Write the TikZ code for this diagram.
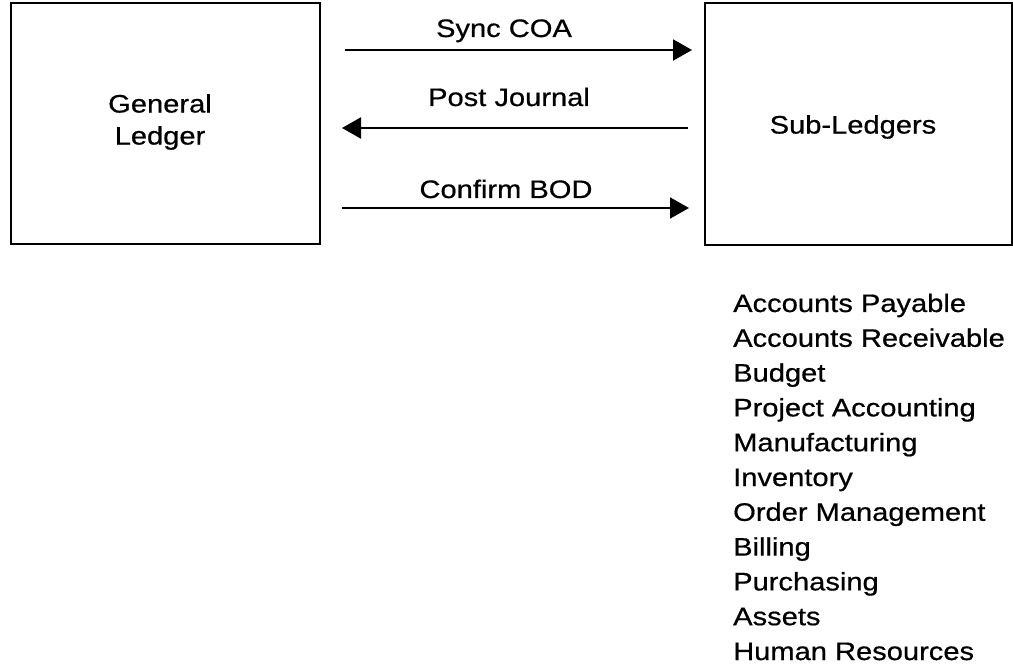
\documentclass[tikz,border=0pt]{standalone}
\usepackage{fontspec}
\setmainfont{Liberation Sans}[FakeStretch=1.15, FakeBold=0.6]
\usetikzlibrary{arrows.meta}
\begin{document}
\begin{tikzpicture}[x=1pt, y=-1pt,
    every node/.style={font=\fontsize{25.3}{32}\selectfont},
    box/.style={draw, line width=2pt, inner sep=0pt, outer sep=0pt},
    msg/.style={line width=2pt, -{Triangle[length=19pt, width=21pt]}},
    lbl/.style={anchor=base, inner sep=0pt},
    item/.style={anchor=base west, inner sep=0pt}]
  \fill[white] (0,0) rectangle (1013,671);
  \useasboundingbox (0,0) rectangle (1013,671);

  % the two ledger boxes
  \node[box, minimum width=309pt, minimum height=241pt] (gl) at (165.5,123.5) {};
  \node[align=center, inner sep=0pt] (gltext) at (160,122) {General\\Ledger};
  \node[box, minimum width=307pt, minimum height=242pt] (sl) at (858.5,124) {};
  \node[inner sep=0pt] (sltext) at (853,127) {Sub-Ledgers};

  % message end points between the boxes
  \coordinate (syncA) at (345,50);
  \coordinate (syncB) at (692,50);
  \coordinate (postA) at (688,128);
  \coordinate (postB) at (342,128);
  \coordinate (confA) at (342,208);
  \coordinate (confB) at (689,208);

  \draw[msg] (syncA) -- (syncB);
  \draw[msg] (postA) -- (postB);
  \draw[msg] (confA) -- (confB);

  \node[lbl] (synclbl) at (504,37) {Sync COA};
  \node[lbl] (postlbl) at (509,106) {Post Journal};
  \node[lbl] (conflbl) at (506,198) {Confirm BOD};

  % list of sub-ledgers
  \foreach \t [count=\i] in {Accounts Payable, Accounts Receivable, Budget,
      Project Accounting, Manufacturing, Inventory, Order Management,
      Billing, Purchasing, Assets, Human Resources}
    \node[item] (sub\i) at (733, {312+34.8*(\i-1)}) {\t};
\end{tikzpicture}
\end{document}
